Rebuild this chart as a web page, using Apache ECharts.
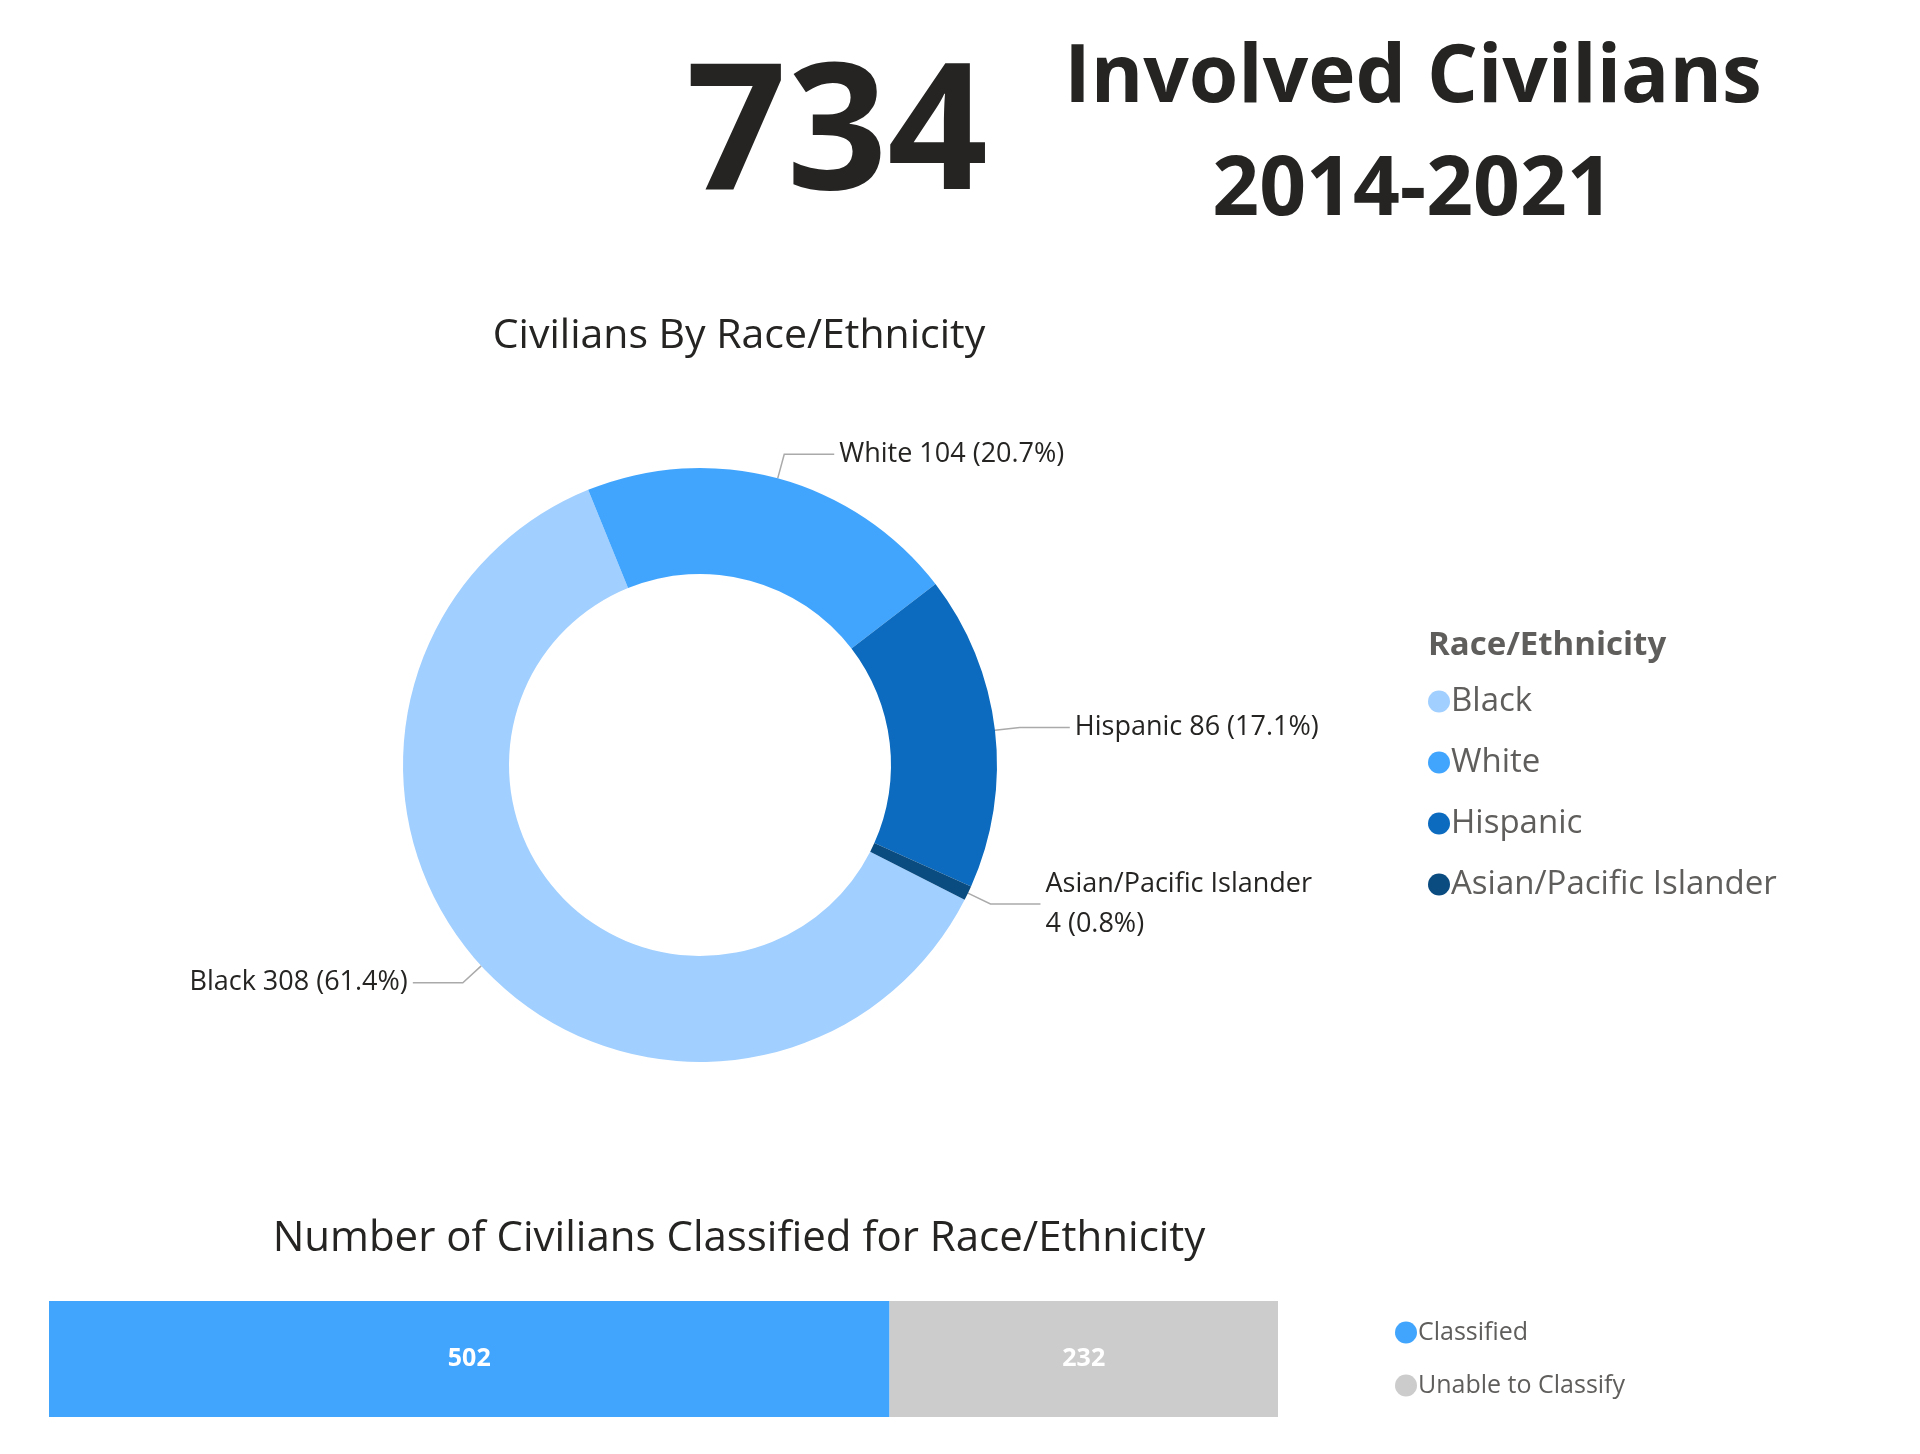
<!DOCTYPE html>
<html><head><meta charset="utf-8">
<script src="https://cdn.jsdelivr.net/npm/echarts@6/dist/echarts.min.js"></script>
<style>html,body{margin:0;background:#fff}#c{width:1920px;height:1454px}</style>
</head><body><div id="c"></div>
<script>
const raceNames = ['Black','White','Hispanic','Asian/Pacific Islander'];
const raceValues = [308,104,86,4];
const raceColors = ['#a1cfff','#42a5fd','#0c6bbf','#0a4b80'];
const classNames = ['Classified','Unable to Classify'];
const classValues = [502,232];
const classColors = ['#42a5fd','#cccccc'];
const total = 734;
const F = '"Open Sans", "Noto Sans", sans-serif';
const sum = raceValues.reduce((a,b)=>a+b,0);
const chart = echarts.init(document.getElementById('c'));
chart.setOption({
  animation:false,
  textStyle:{fontFamily:F},
  title:[
    {text:String(total),left:832,top:46,textAlign:'center',textStyle:{fontFamily:F,fontSize:176,fontWeight:'bold',color:'#252423'}},
    {text:'Involved Civilians',left:1408,top:34,textAlign:'center',textStyle:{fontFamily:F,fontSize:80,fontWeight:'bold',color:'#252423'}},
    {text:'2014-2021',left:1408,top:146,textAlign:'center',textStyle:{fontFamily:F,fontSize:82,fontWeight:'bold',color:'#252423'}},
    {text:'Civilians By Race/Ethnicity',left:734,top:311,textAlign:'center',textStyle:{fontFamily:F,fontSize:41,fontWeight:'normal',color:'#252423'}},
    {text:'Number of Civilians Classified for Race/Ethnicity',left:734,top:1213,textAlign:'center',textStyle:{fontFamily:F,fontSize:42,fontWeight:'normal',color:'#252423'}},
    {text:'Race/Ethnicity',left:1423,top:624,textStyle:{fontFamily:F,fontSize:33,fontWeight:'bold',color:'#605e5c'}}
  ],
  legend:[
    {data:raceNames,orient:'vertical',left:1423,top:680,icon:'circle',itemWidth:22,itemHeight:22,itemGap:28,
     textStyle:{fontFamily:F,fontSize:33,color:'#605e5c',padding:[0,0,0,-4]}},
    {data:classNames,orient:'vertical',left:1390,top:1315,icon:'circle',itemWidth:22,itemHeight:22,itemGap:28,
     textStyle:{fontFamily:F,fontSize:25,color:'#605e5c',padding:[0,0,0,-4]}}
  ],
  grid:{left:49,width:1229,top:1301,height:116},
  xAxis:{type:'value',max:total,show:false},
  yAxis:{type:'category',data:['All'],show:false},
  series:[
    {type:'pie',center:[700,765],radius:[191,297],startAngle:-27,clockwise:true,
     data:raceNames.map((n,i)=>({name:n,value:raceValues[i],itemStyle:{color:raceColors[i]}})),
     label:{fontFamily:F,fontSize:27,color:'#252423',
       formatter:p=>{const t=p.value+' ('+(p.value/sum*100).toFixed(1)+'%)';return p.name.length>12?p.name+'\n'+t:p.name+' '+t;},
       lineHeight:40,align:'left'},
     labelLine:{length:25,length2:50,lineStyle:{color:'#aaa',width:1.5}},
     emphasis:{disabled:true}},
    ...classNames.map((n,i)=>({type:'bar',name:n,stack:'s',barWidth:116,data:[classValues[i]],
      itemStyle:{color:classColors[i]},
      label:{show:true,position:'inside',color:'#fff',fontFamily:F,fontWeight:'bold',fontSize:25}}))
  ]
});
</script></body></html>
